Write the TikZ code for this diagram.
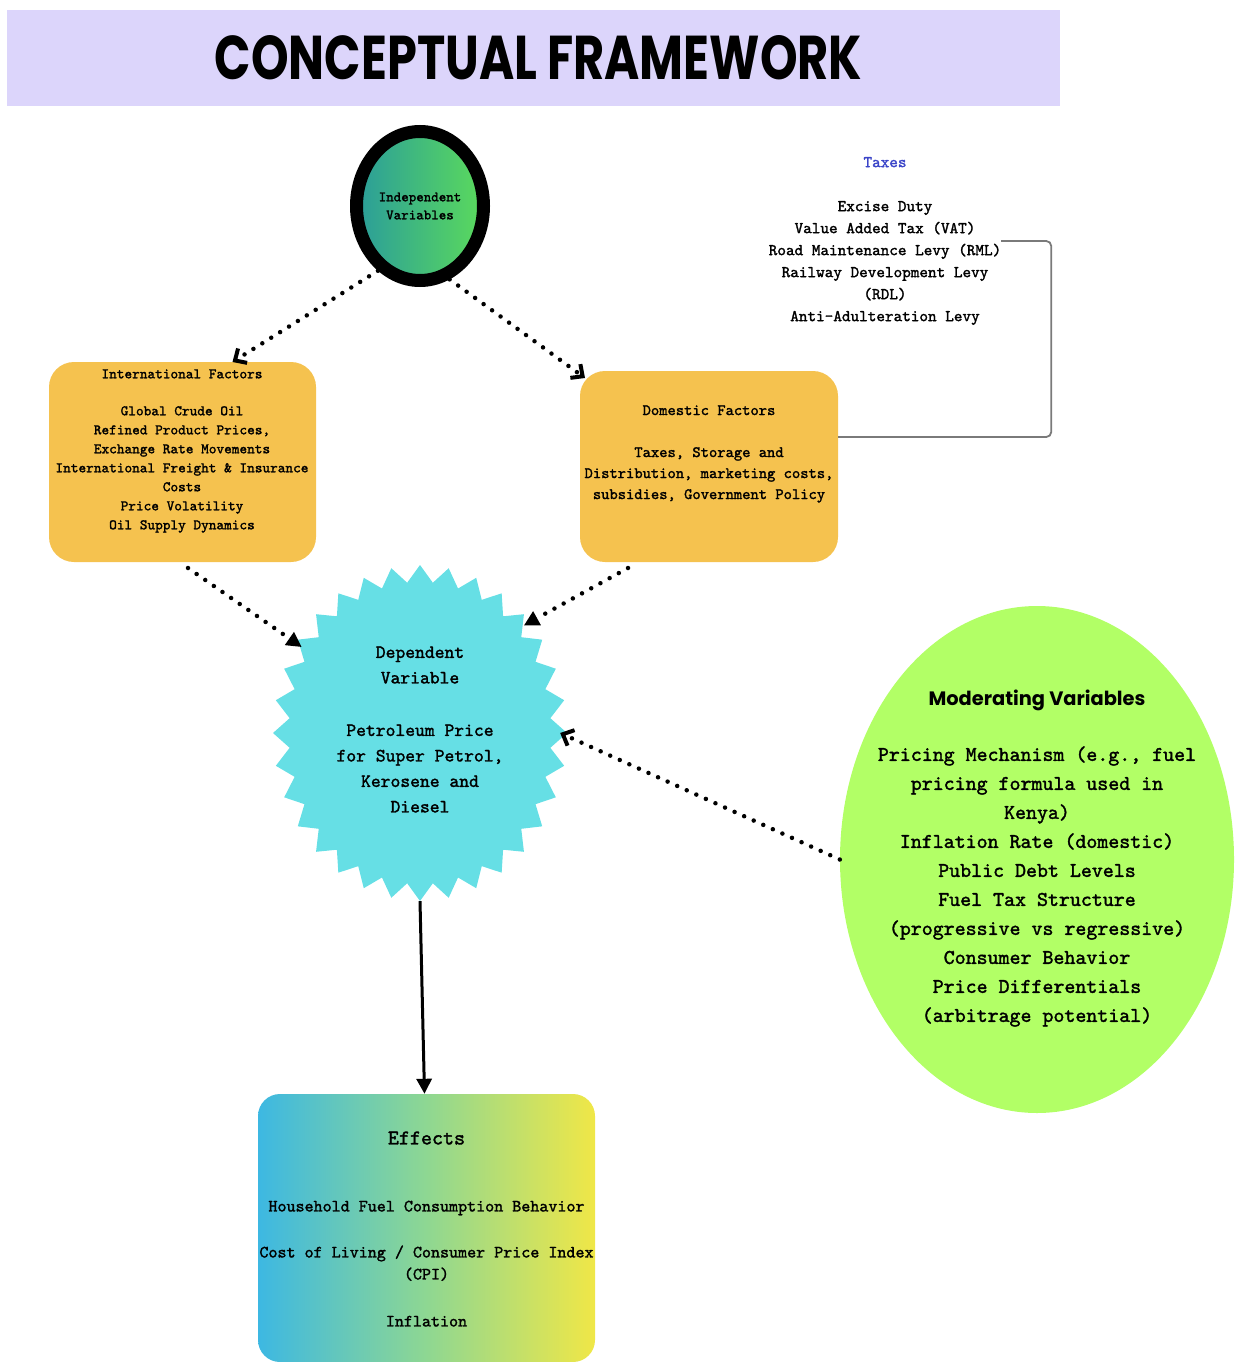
\documentclass[tikz,border=0pt]{standalone}
\usepackage{fontspec}
\usetikzlibrary{arrows.meta,shapes.geometric}
\newfontfamily\tw{lmmono10-regular.otf}[FakeBold=1.6]
\newfontfamily\ttl{Poppins}
\definecolor{band}{HTML}{DCD5FB}
\definecolor{boxy}{HTML}{F5C24F}
\definecolor{depfill}{HTML}{66DFE5}
\definecolor{modg}{HTML}{B2FF66}
\definecolor{taxb}{HTML}{3B45C8}
\definecolor{indl}{HTML}{2A9D9A}
\definecolor{indr}{HTML}{5BDA5C}
\definecolor{effl}{HTML}{3DB8E2}
\definecolor{effm}{HTML}{8ED792}
\definecolor{effr}{HTML}{F0E747}
\definecolor{linegray}{HTML}{7A7A7A}
\tikzset{
  ybox/.style={fill=boxy, rounded corners=25pt, inner sep=0pt, outer sep=0pt},
  txt/.style={align=center, inner sep=0pt, outer sep=0pt, font=\tw},
  dotline/.style={line width=4.5pt, line cap=round, dash pattern=on 0pt off 10.5pt},
  chev/.style={-{Straight Barb[length=9pt,width=17pt,line width=4pt]}},
  tri/.style={-{Triangle[length=15pt,width=15pt]}},
}
\begin{document}
\begin{tikzpicture}[x=1pt,y=-1pt]
\useasboundingbox (0,0) rectangle (1238,1362);
% title band
\node[fill=band, minimum width=1053pt, minimum height=96pt, inner sep=0pt] (band) at (533.5,58) {};
\node[inner sep=0pt] (titletext) at (538.5,58) {\resizebox{647pt}{44pt}{\ttl\bfseries CONCEPTUAL FRAMEWORK}};
% independent
\node[ellipse, draw=black, line width=13pt, left color=indl, right color=indr,
      minimum width=127pt, minimum height=149pt, inner sep=0pt, align=center,
      font=\tw\fontsize{14.3}{18}\selectfont] (indep) at (420,206)
  {Independent\\Variables};
% taxes
\node[txt, font=\tw\fontsize{16.4}{22}\selectfont] (taxes) at (885,241)
  {\textcolor{taxb}{Taxes}\\[22pt]Excise Duty\\Value Added Tax (VAT)\\Road Maintenance Levy (RML)\\Railway Development Levy\\(RDL)\\Anti-Adulteration Levy};
% international
\node[ybox, minimum width=267pt, minimum height=200pt] (intl) at (182.5,462) {};
\node[txt, font=\tw\fontsize{14.6}{19}\selectfont] (intltext) at (182,451)
  {International Factors\\[18pt]Global Crude Oil\\Refined Product Prices,\\Exchange Rate Movements\\International Freight \& Insurance\\Costs\\Price Volatility\\Oil Supply Dynamics};
% domestic
\node[ybox, minimum width=258pt, minimum height=191pt] (dom) at (709,466.5) {};
\node[txt, font=\tw\fontsize{15.8}{21}\selectfont] (domtext) at (709,454)
  {Domestic Factors\\[21pt]Taxes, Storage and\\Distribution, marketing costs,\\subsidies, Government Policy};
\draw[linegray, line width=1.8pt, rounded corners=5pt] (taxes.east) -- ++(50pt,0) |- ([yshift=29.5pt]dom.east);
% dependent starburst
\coordinate (depc) at (420,733);
\fill[depfill, shift={(depc)}] plot[samples at={0,1,...,63}, variable=\k]
  ({ifthenelse(mod(\k,2)==0,147,131)*cos(\k*5.625)}, {ifthenelse(mod(\k,2)==0,168,151)*sin(\k*5.625)}) -- cycle;
\node[ellipse, minimum width=280pt, minimum height=320pt, inner sep=0pt] (dep) at (depc) {};
\node[txt, font=\tw\fontsize{18.7}{25.5}\selectfont] (deptext) at (420,729.5)
  {Dependent\\Variable\\[27pt]Petroleum Price\\for Super Petrol,\\Kerosene and\\Diesel};
% moderating
\node[ellipse, fill=modg, minimum width=394pt, minimum height=507pt, inner sep=0pt] (mod) at (1037,859.5) {};
\node[txt, font=\tw\fontsize{20.9}{29}\selectfont] (modtext) at (1037,858.5)
  {{\ttl\bfseries\fontsize{19.4}{22}\selectfont Moderating Variables}\\[26pt]Pricing Mechanism (e.g., fuel\\pricing formula used in\\Kenya)\\Inflation Rate (domestic)\\Public Debt Levels\\Fuel Tax Structure\\(progressive vs regressive)\\Consumer Behavior\\Price Differentials\\(arbitrage potential)};
% effects
\node[rounded corners=22pt, left color=effl, right color=effr, middle color=effm,
      minimum width=337pt, minimum height=268pt, inner sep=0pt] (eff) at (426.5,1228) {};
\node[txt, font=\tw\fontsize{17.2}{22}\selectfont] (efftext) at (426.5,1229)
  {{\fontsize{21}{22}\selectfont Effects}\\[45pt]Household Fuel Consumption Behavior\\[24pt]Cost of Living / Consumer Price Index\\(CPI)\\[25pt]Inflation};
% connectors
\draw[dotline, chev] (indep.237) -- ([xshift=50pt]intl.north);
\draw[dotline, chev] (indep.292) -- ([xshift=-124pt,yshift=-7pt]dom.north);
\draw[dotline, tri] ([xshift=5.5pt,yshift=-6pt]intl.south) -- (dep.144);
\draw[dotline, tri] ([xshift=-81pt,yshift=-6pt]dom.south) -- (dep.46);
\draw[dotline, chev] (mod.west) -- (dep.east);
\draw[line width=3pt, tri] ([yshift=-8pt]dep.south) -- ([xshift=-2pt]eff.north);
\end{tikzpicture}
\end{document}
